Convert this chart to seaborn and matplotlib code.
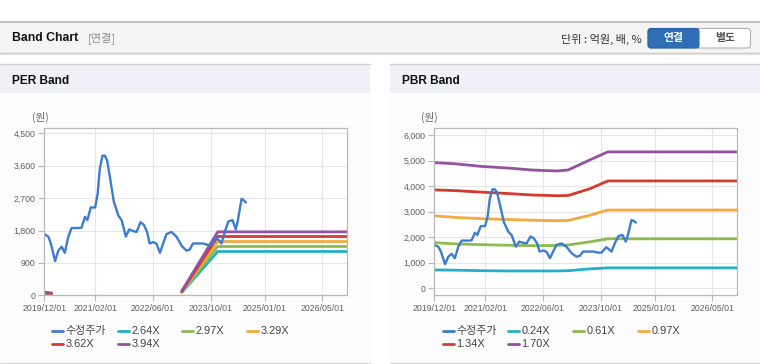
import numpy as np
import pandas as pd
import matplotlib
matplotlib.use("Agg")
import matplotlib.pyplot as plt
import matplotlib.dates as mdates
from matplotlib.patches import Rectangle, FancyBboxPatch
from matplotlib.lines import Line2D
from matplotlib.ticker import FuncFormatter
import seaborn as sns

# ---------------- data ----------------
price_dates = ["2019-12-01", "2020-01-04", "2020-01-25", "2020-03-01", "2020-03-28", "2020-04-25",
               "2020-05-22", "2020-06-20", "2020-07-18", "2020-09-12", "2020-10-10", "2020-11-07",
               "2020-11-28", "2020-12-26", "2021-02-01", "2021-02-22", "2021-03-13", "2021-04-04",
               "2021-04-24", "2021-05-13", "2021-06-10", "2021-07-08", "2021-08-15", "2021-09-12",
               "2021-10-18", "2021-11-15", "2021-12-13", "2022-01-16", "2022-02-18", "2022-03-18",
               "2022-04-15", "2022-05-06", "2022-06-04", "2022-07-02", "2022-08-01", "2022-08-28",
               "2022-09-25", "2022-11-06", "2022-12-18", "2023-02-01", "2023-03-12", "2023-04-09",
               "2023-05-06", "2023-08-01", "2023-09-10", "2023-10-10", "2023-11-18", "2023-12-18",
               "2024-01-01", "2024-02-01", "2024-02-28", "2024-04-03", "2024-05-01", "2024-05-19",
               "2024-06-18", "2024-07-07", "2024-07-25"]
price_values = [1700, 1630, 1440, 950, 1240, 1350,
                1180, 1630, 1870, 1870, 1880, 2180,
                2090, 2440, 2440, 2810, 3530, 3880,
                3880, 3750, 3200, 2610, 2220, 2090,
                1630, 1830, 1790, 1760, 2030, 1960,
                1760, 1440, 1480, 1440, 1180, 1440,
                1700, 1760, 1630, 1370, 1240, 1270,
                1440, 1440, 1400, 1400, 1610, 1500,
                1440, 1790, 2050, 2090, 1830, 2090,
                2680, 2640, 2580]

per_band_labels = ["2.64X", "2.97X", "3.29X", "3.62X", "3.94X"]
per_band_dates = ["2019-12-01", "2020-01-01", "2020-02-01", "2020-03-01",
                  "2023-02-01", "2023-12-01", "2026-12-01"]
per_264 = [53, 47, 40, np.nan, 80, 1217, 1217]
per_297 = [59, 53, 45, np.nan, 90, 1356, 1356]
per_329 = [66, 59, 49, np.nan, 99, 1494, 1494]
per_362 = [72, 65, 54, np.nan, 109, 1633, 1633]
per_394 = [79, 71, 59, np.nan, 118, 1763, 1763]

pbr_band_labels = ["0.24X", "0.61X", "0.97X", "1.34X", "1.70X"]
pbr_band_dates = ["2019-12-01", "2020-06-01", "2021-01-01", "2021-08-01", "2022-03-01",
                  "2022-10-01", "2023-01-01", "2023-07-01", "2023-12-01", "2026-12-01"]
pbr_024 = [720, 710, 690, 680, 680, 680, 690, 760, 800, 800]
pbr_061 = [1790, 1740, 1710, 1690, 1670, 1680, 1700, 1820, 1940, 1940]
pbr_097 = [2840, 2780, 2730, 2700, 2670, 2650, 2660, 2860, 3070, 3070]
pbr_134 = [3860, 3830, 3770, 3720, 3660, 3630, 3640, 3900, 4210, 4210]
pbr_170 = [4930, 4880, 4780, 4720, 4640, 4600, 4640, 5030, 5350, 5350]

x_tick_dates = ["2019-12-01", "2021-02-01", "2022-06-01", "2023-10-01", "2025-01-01", "2026-05-01"]
x_tick_labels = ["2019/12/01", "2021/02/01", "2022/06/01", "2023/10/01", "2025/01/01", "2026/05/01"]
per_y_ticks = [0, 900, 1800, 2700, 3600, 4500]
pbr_y_ticks = [0, 1000, 2000, 3000, 4000, 5000, 6000]

price_label = "수정주가"
price_color = "#3d7ccf"
band_colors = ["#22b0c2", "#8cbb4f", "#f2a93f", "#d23b2e", "#94519f"]

# ---------------- style ----------------
sns.set_style("white")
plt.rcParams['font.family'] = ['Liberation Sans', 'Noto Sans CJK KR']
CJK = ['Noto Sans CJK KR', 'Liberation Sans']

W, H = 760, 364
fig = plt.figure(figsize=(W / 100, H / 100), dpi=100)
fig.patch.set_facecolor("white")

bg = fig.add_axes([0, 0, 1, 1], zorder=0)
bg.set_xlim(0, W)
bg.set_ylim(H, 0)
bg.axis("off")

# top header bar
bg.add_patch(Rectangle((0, 22.3), W, 30.5, facecolor="#f4f4f4", edgecolor="none"))
bg.plot([0, W], [22.3, 22.3], color="#b4b4b4", lw=1.2)
bg.plot([0, W], [53.0, 53.0], color="#c4c4c4", lw=1.0)
bg.plot([0, W], [54.2, 54.2], color="#e6e6e6", lw=1.0)
bg.text(12, 38.3, "Band Chart", fontsize=8.8, fontweight="bold", color="#111111", va="center", ha="left")
bg.text(88, 38.3, "[연결]", fontsize=8.0, color="#8a8a8a", va="center", ha="left", family=CJK)
bg.text(642, 39.3, "단위 : 억원, 배, %", fontsize=8.0, color="#333333", va="center", ha="right", family=CJK)
# buttons
bg.add_patch(FancyBboxPatch((648, 28.5), 102.5, 19.5, boxstyle="round,pad=0,rounding_size=3",
                            facecolor="#ffffff", edgecolor="#b0b0b0", lw=0.8))
bg.add_patch(FancyBboxPatch((648, 28.5), 51, 19.5, boxstyle="round,pad=0,rounding_size=3",
                            facecolor="#2f6db4", edgecolor="#2a64a8", lw=0.8))
bg.add_patch(Rectangle((692, 28.5), 7, 19.5, facecolor="#2f6db4", edgecolor="none"))
bg.text(673.5, 38.5, "연결", fontsize=7.8, fontweight="bold", color="white", va="center", ha="center", family=CJK)
bg.text(725, 38.5, "별도", fontsize=7.8, fontweight="bold", color="#555555", va="center", ha="center", family=CJK)

# panel headers / bodies
for x0, x1, title in [(0, 370, "PER Band"), (390, 760, "PBR Band")]:
    bg.add_patch(Rectangle((x0, 93), x1 - x0, 269.5, facecolor="#fcfcfc", edgecolor="none"))
    bg.add_patch(Rectangle((x0, 64.3), x1 - x0, 28.5, facecolor="#eef2f7", edgecolor="none"))
    bg.plot([x0, x1], [64.3, 64.3], color="#cfcfcf", lw=1.0)
    bg.plot([x0, x1], [362.7, 362.7], color="#d8d8d8", lw=1.0)
    bg.text(x0 + 12, 80.5, title, fontsize=8.6, fontweight="bold", color="#111111", va="center", ha="left")


def band_frame(dates, labels, arrays):
    rows = []
    for lab, arr in zip(labels, arrays):
        vals = pd.Series(arr, dtype=float)
        seg = vals.isna().cumsum()
        for d, v, s in zip(dates, vals, seg):
            if not np.isnan(v):
                rows.append({"date": pd.Timestamp(d), "value": v, "band": lab, "seg": int(s)})
    return pd.DataFrame(rows)


price_df = pd.DataFrame({"date": pd.to_datetime(price_dates), "value": price_values})

panels = [
    dict(left=44.3, labels=per_band_labels, dates=per_band_dates,
         arrays=[per_264, per_297, per_329, per_362, per_394], yticks=per_y_ticks, ylim=(0, 4640),
         leg_x=[52.3, 117.7, 181.7, 246.7], unit_x=40),
    dict(left=434.3, labels=pbr_band_labels, dates=pbr_band_dates,
         arrays=[pbr_024, pbr_061, pbr_097, pbr_134, pbr_170], yticks=pbr_y_ticks, ylim=(-275, 6275),
         leg_x=[442.7, 507.7, 572.7, 637.7], unit_x=429.7),
]

top_px, bot_px, width_px = 128.3, 295.3, 303.0
for p in panels:
    ax = fig.add_axes([p["left"] / W, 1 - bot_px / H, width_px / W, (bot_px - top_px) / H], zorder=2)
    ax.set_facecolor("white")
    bdf = band_frame(p["dates"], p["labels"], p["arrays"])
    pal = dict(zip(p["labels"], band_colors))
    sns.lineplot(data=bdf, x="date", y="value", hue="band", units="seg", estimator=None,
                 palette=pal, lw=2.0, legend=False, ax=ax, sort=False)
    sns.lineplot(data=price_df, x="date", y="value", color=price_color, lw=1.7, ax=ax,
                 estimator=None, sort=False)
    ax.set_xlim(pd.Timestamp("2019-12-01"), pd.Timestamp("2026-11-26"))
    ax.set_ylim(*p["ylim"])
    ax.set_xticks(pd.to_datetime(x_tick_dates))
    ax.set_xticklabels(x_tick_labels)
    ax.set_yticks(p["yticks"])
    ax.yaxis.set_major_formatter(FuncFormatter(lambda v, _: f"{v:,.0f}"))
    ax.set_xlabel("")
    ax.set_ylabel("")
    ax.grid(True, color="#e6e6e6", lw=0.8)
    ax.set_axisbelow(True)
    for s in ax.spines.values():
        s.set_color("#b8b8b8")
        s.set_linewidth(0.9)
    ax.tick_params(axis="both", which="major", length=4, width=0.8, color="#b8b8b8",
                   labelcolor="#606060", labelsize=6.3, pad=2.2, direction="out",
                   bottom=True, left=True)
    # unit label
    bg.text(p["unit_x"], 117.3, "(원)", fontsize=7.6, color="#666666", ha="center", va="center", family=CJK)
    # legend (manual layout)
    names = [price_label] + p["labels"]
    cols = [price_color] + band_colors
    for i, (nm, c) in enumerate(zip(names, cols)):
        r, col = divmod(i, 4)
        x0 = p["leg_x"][col]
        y0 = 330.7 if r == 0 else 344.0
        bg.add_line(Line2D([x0, x0 + 11], [y0, y0], color=c, lw=2.0))
        bg.text(x0 + 13.5, y0, nm, fontsize=7.9, color="#444444", ha="left", va="center",
                family=['Liberation Sans', 'Noto Sans CJK KR'])

fig.savefig("out.png", dpi=100)
